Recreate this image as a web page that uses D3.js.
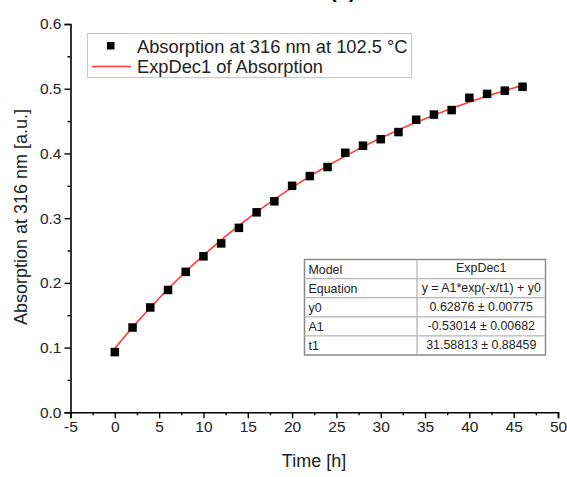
<!DOCTYPE html>
<html>
<head>
<meta charset="utf-8">
<script src="https://cdn.jsdelivr.net/npm/d3@7"></script>
<style>
  html, body { margin: 0; padding: 0; background: #fff; }
  svg { display: block; font-family: "Liberation Sans", Arial, sans-serif; }
</style>
</head>
<body>
<svg id="chart" width="567" height="477"></svg>
<script>
// Measured absorption at 316 nm (102.5 °C) over time
const timeHours = [0, 2, 4, 6, 8, 10, 12, 14, 16, 18, 20, 22, 24, 26, 28, 30, 32, 34, 36, 38, 40, 42, 44, 46];
const absorption = [0.093, 0.131, 0.162, 0.189, 0.217, 0.241, 0.261, 0.285, 0.309, 0.326, 0.350, 0.365, 0.379, 0.401, 0.412, 0.422, 0.433, 0.452, 0.460, 0.467, 0.486, 0.492, 0.497, 0.503];

// ExpDec1 fit parameters: y = A1*exp(-x/t1) + y0
const fitNames = ["y0", "A1", "t1"];
const fitValues = [0.62876, -0.53014, 31.58813];
const fitErrors = ["0.00775", "0.00682", "0.88459"];
const fitValueLabels = ["0.62876", "-0.53014", "31.58813"];

const xTicks = [-5, 0, 5, 10, 15, 20, 25, 30, 35, 40, 45, 50];
const yTicks = [0.0, 0.1, 0.2, 0.3, 0.4, 0.5, 0.6];

const svg = d3.select("#chart");

const x = d3.scaleLinear().domain([-5, 50]).range([70.5, 558]);
const y = d3.scaleLinear().domain([0, 0.6]).range([412.3, 24]);

// Panel letter above the plot
svg.append("text")
  .attr("x", 330).attr("y", -2.5)
  .attr("font-size", 20).attr("font-weight", "bold")
  .text("(b)");

// Axes (plain hyphen for negative numbers)
const xAxis = svg.append("g").attr("transform", `translate(0,${y(0)})`)
  .call(d3.axisBottom(x).tickValues(xTicks).tickSize(6).tickPadding(3).tickFormat(d => String(d)));
const xMinor = svg.append("g").attr("transform", `translate(0,${y(0)})`)
  .call(d3.axisBottom(x).tickValues(d3.range(-2.5, 50, 5)).tickSize(3).tickFormat(""));

const yAxis = svg.append("g").attr("transform", `translate(${x(-5)},0)`)
  .call(d3.axisLeft(y).tickValues(yTicks).tickSize(6).tickPadding(3).tickFormat(d => d.toFixed(1)));
const yMinor = svg.append("g").attr("transform", `translate(${x(-5)},0)`)
  .call(d3.axisLeft(y).tickValues(d3.range(0.05, 0.6, 0.1)).tickSize(3).tickFormat(""));

[xAxis, xMinor, yAxis, yMinor].forEach(g => {
  g.select(".domain").attr("stroke", "#000").attr("stroke-width", 1.6);
  g.selectAll(".tick line").attr("stroke", "#000").attr("stroke-width", 1.4);
  g.selectAll(".tick text").attr("fill", "#222").attr("font-size", 15.5)
    .attr("font-family", "'Liberation Sans', Arial, sans-serif");
});
xMinor.select(".domain").remove();
yMinor.select(".domain").remove();

// Axis titles
svg.append("text")
  .attr("x", 314).attr("y", 467)
  .attr("text-anchor", "middle").attr("font-size", 18).attr("fill", "#222")
  .text("Time [h]");
svg.append("text")
  .attr("transform", "translate(27,217) rotate(-90)")
  .attr("text-anchor", "middle").attr("font-size", 18).attr("fill", "#222")
  .text("Absorption at 316 nm [a.u.]");

// Fitted ExpDec1 curve
const [y0, A1, t1] = fitValues;
const fitX = d3.range(0, 46.001, 0.5);
const fitLine = d3.line()
  .x(d => x(d))
  .y(d => y(A1 * Math.exp(-d / t1) + y0));
svg.append("path")
  .datum(fitX)
  .attr("fill", "none").attr("stroke", "#ff3b3b").attr("stroke-width", 1.6)
  .attr("d", fitLine);

// Data markers
const ms = 8.5;
svg.append("g").selectAll("rect")
  .data(timeHours.map((t, i) => [t, absorption[i]]))
  .join("rect")
  .attr("x", d => x(d[0]) - ms / 2)
  .attr("y", d => y(d[1]) - ms / 2)
  .attr("width", ms).attr("height", ms)
  .attr("fill", "#000");

// Legend
const legend = svg.append("g");
legend.append("rect")
  .attr("x", 87.5).attr("y", 33.5).attr("width", 324).attr("height", 44)
  .attr("fill", "#fff").attr("stroke", "#c8c8c8").attr("stroke-width", 1);
legend.append("rect")
  .attr("x", 107).attr("y", 42).attr("width", 7.5).attr("height", 7.5).attr("fill", "#000");
legend.append("text")
  .attr("x", 137).attr("y", 52.5).attr("font-size", 18.3).attr("fill", "#222")
  .text("Absorption at 316 nm at 102.5 °C");
legend.append("line")
  .attr("x1", 92).attr("x2", 131).attr("y1", 66.5).attr("y2", 66.5)
  .attr("stroke", "#ff3b3b").attr("stroke-width", 1.4);
legend.append("text")
  .attr("x", 137).attr("y", 72.5).attr("font-size", 18.3).attr("fill", "#222")
  .text("ExpDec1 of Absorption");

// Fit results table
const tblLeft = 304.5, tblTop = 259.5, tblRight = 545.5, colDiv = 417;
const rowH = 19.1;
const rows = [["Model", "ExpDec1"], ["Equation", "y = A1*exp(-x/t1) + y0"]]
  .concat(fitNames.map((n, i) => [n, `${fitValueLabels[i]} \u00b1 ${fitErrors[i]}`]));
const tbl = svg.append("g");
tbl.append("rect")
  .attr("x", tblLeft).attr("y", tblTop)
  .attr("width", tblRight - tblLeft).attr("height", rowH * rows.length)
  .attr("fill", "#fff").attr("stroke", "#8a8a8a").attr("stroke-width", 1.5);
rows.forEach((r, i) => {
  const top = tblTop + i * rowH;
  if (i > 0) {
    tbl.append("line").attr("x1", tblLeft).attr("x2", tblRight)
      .attr("y1", top).attr("y2", top)
      .attr("stroke", "#b5b5b5").attr("stroke-width", 1.3);
  }
  tbl.append("text").attr("x", tblLeft + 4).attr("y", top + 14)
    .attr("font-size", 12.4).attr("fill", "#222").text(r[0]);
  tbl.append("text").attr("x", (colDiv + tblRight) / 2).attr("y", top + (i === 0 ? 12.5 : 13.5))
    .attr("text-anchor", "middle").attr("font-size", 12.4).attr("fill", "#222").text(r[1]);
});
tbl.append("line").attr("x1", colDiv).attr("x2", colDiv)
  .attr("y1", tblTop).attr("y2", tblTop + rowH * rows.length)
  .attr("stroke", "#b5b5b5").attr("stroke-width", 1.3);
</script>
</body>
</html>
